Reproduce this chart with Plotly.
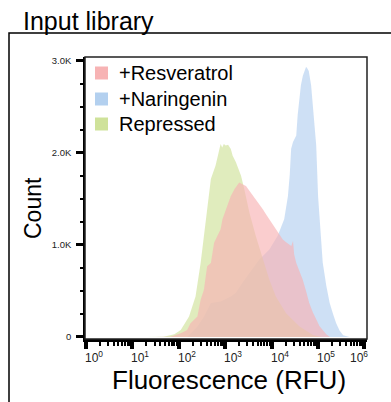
import plotly.graph_objects as go

# ---------------- data ----------------
series_names = ["+Resveratrol", "+Naringenin", "Repressed"]

naringenin_rfu = [60, 100, 151, 250, 347, 490, 794, 1318, 1698, 2344, 3500, 5370, 8913,
                  13490, 18620, 22390, 24500, 26300, 28840, 31000, 33880, 36310, 39000,
                  42660, 47000, 52000, 55000, 57540, 63000, 70790, 83180, 91200, 100000,
                  112000, 125900, 150000, 177800, 210000, 245500, 290000, 346700, 478600]
naringenin_count = [0, 0, 0, 110, 220, 370, 385, 440, 480, 590, 710, 840, 950,
                    1100, 1280, 1530, 1760, 2045, 2120, 2150, 2190, 2410, 2560,
                    2735, 2840, 2900, 2935, 2925, 2890, 2735, 2260, 2080, 1530,
                    1150, 810, 560, 370, 250, 150, 70, 20, 0]

resveratrol_rfu = [30, 66, 110, 151, 178, 251, 295, 347, 407, 490, 575, 680, 794, 871,
                   1050, 1318, 1600, 1995, 2344, 2800, 3311, 3900, 4571, 5400, 6457,
                   7600, 8913, 10500, 12300, 14600, 17380, 20500, 23990, 26500, 28840,
                   30500, 33880, 40000, 46770, 55000, 64570, 77000, 91200, 107000,
                   125900, 150000, 177800]
resveratrol_count = [0, 3, 40, 77, 150, 222, 404, 513, 768, 805, 1024, 1100, 1170, 1279,
                     1400, 1533, 1610, 1680, 1661, 1640, 1588, 1540, 1497, 1440, 1388,
                     1330, 1279, 1220, 1169, 1110, 1060, 1030, 1005, 990, 1042,
                     900, 805, 710, 623, 500, 368, 270, 186, 120,
                     77, 30, 3]

repressed_rfu = [20, 47, 80, 110, 166, 229, 295, 380, 490, 560, 617, 680, 741, 794, 860,
                 933, 1023, 1150, 1318, 1445, 1698, 1820, 2188, 2570, 3311, 4571, 6457,
                 8913, 12300, 20420, 39810, 77620, 117500]
repressed_count = [0, 3, 30, 77, 222, 440, 805, 1243, 1716, 1800, 1862, 1950, 2044, 2098,
                   2060, 2098, 2080, 2090, 2044, 1970, 1898, 1862, 1752, 1607, 1352, 1096,
                   841, 623, 440, 259, 113, 22, 0]

x_tick_values = [1, 10, 100, 1000, 10000, 100000, 1000000]
x_tick_labels = ["10<sup>0</sup>", "10<sup>1</sup>", "10<sup>2</sup>", "10<sup>3</sup>",
                 "10<sup>4</sup>", "10<sup>5</sup>", "10<sup>6</sup>"]
x_minor_values = [m * d for d in [1, 10, 100, 1000, 10000, 100000] for m in range(2, 10)]
y_tick_values = [0, 1000, 2000, 3000]
y_tick_labels = ["0", "1.0K", "2.0K", "3.0K"]
y_minor_values = [250, 500, 750, 1250, 1500, 1750, 2250, 2500, 2750]

# ---------------- styling ----------------
FONT = "Liberation Sans, Arial, Helvetica, sans-serif"
fill_colors = {"+Resveratrol": "rgba(247,178,179,0.65)",
               "+Naringenin": "rgba(179,208,239,0.65)",
               "Repressed": "rgba(207,226,154,0.65)"}
legend_colors = {"+Resveratrol": "#f7b3b4",
                 "+Naringenin": "#b3d0ef",
                 "Repressed": "#cfe29a"}

W, H = 391, 402
L, R, T, B = 85, 24, 57, 63
PW, PH = W - L - R, H - T - B


def px(xp):
    return (xp - L) / PW


def py(yp):
    return (H - B - yp) / PH


fig = go.Figure()

# fills: naringenin at back, repressed, resveratrol on top
for name, xs, ys in [("+Naringenin", naringenin_rfu, naringenin_count),
                     ("Repressed", repressed_rfu, repressed_count),
                     ("+Resveratrol", resveratrol_rfu, resveratrol_count)]:
    fig.add_trace(go.Scatter(x=xs, y=ys, mode="lines", fill="tozeroy", name=name,
                             line=dict(width=0, color=fill_colors[name]),
                             fillcolor=fill_colors[name], showlegend=False,
                             hoverinfo="skip"))

fig.update_xaxes(type="log", range=[-0.0215, 6.054], showgrid=False, zeroline=False,
                 showline=True, linecolor="black", linewidth=3,
                 tickmode="array", tickvals=x_tick_values, showticklabels=False,
                 ticks="outside", ticklen=7, tickwidth=3.5, tickcolor="black",
                 minor=dict(tickmode="array", tickvals=x_minor_values, ticks="outside",
                            ticklen=4, tickwidth=2, tickcolor="black"))
fig.update_yaxes(range=[-22, 3043], showgrid=False, zeroline=False,
                 showline=True, linecolor="black", linewidth=1.5,
                 tickmode="array", tickvals=y_tick_values, ticktext=y_tick_labels,
                 ticks="outside", ticklen=7, tickwidth=3, tickcolor="black",
                 tickfont=dict(size=9.5, color="#222", family=FONT),
                 ticklabelstandoff=3,
                 minor=dict(tickmode="array", tickvals=y_minor_values, ticks="outside",
                            ticklen=3.5, tickwidth=2, tickcolor="black"))

annotations = []
shapes = []
# x tick labels (slightly offset to the right of their ticks, as in the reference)
for i, (v, lab) in enumerate(zip(x_tick_values, x_tick_labels)):
    shift = 8 if i < len(x_tick_values) - 1 else -5
    annotations.append(dict(x=i, y=py(357), xref="x", yref="paper", text=lab,
                            showarrow=False, xanchor="center", yanchor="middle",
                            xshift=shift, font=dict(size=12, color="#222", family=FONT)))

# legend drawn as swatches + labels
legend_rows = [73, 99, 124]
for name, yc in zip(series_names, legend_rows):
    shapes.append(dict(type="rect", xref="paper", yref="paper",
                       x0=px(95), x1=px(108), y0=py(yc + 6.5), y1=py(yc - 6.5),
                       fillcolor=legend_colors[name], line=dict(width=0), layer="above"))
    annotations.append(dict(x=px(117), y=py(yc), xref="paper", yref="paper", text=name,
                            showarrow=False, xanchor="left", yanchor="middle",
                            font=dict(size=20, color="black", family=FONT)))

annotations.append(dict(x=px(21), y=py(20.5), xref="paper", yref="paper",
                        text="Input library", showarrow=False, xanchor="left",
                        yanchor="middle", font=dict(size=25, color="black", family=FONT)))
annotations.append(dict(x=px(228.5), y=py(380), xref="paper", yref="paper",
                        text="Fluorescence (RFU)", showarrow=False, xanchor="center",
                        yanchor="middle", font=dict(size=26, color="black", family=FONT)))
annotations.append(dict(x=px(33), y=py(208), xref="paper", yref="paper",
                        text="Count", showarrow=False, xanchor="center", textangle=-90,
                        yanchor="middle", font=dict(size=23, color="black", family=FONT)))

shapes += [
    dict(type="rect", xref="paper", yref="paper", x0=0, y0=0, x1=1, y1=1,
         line=dict(color="#222", width=1.5), layer="above"),
    dict(type="path", xref="paper", yref="paper",
         path=f"M {px(9)},{py(410)} L {px(9)},{py(33)} L {px(400)},{py(33)}",
         line=dict(color="black", width=1.5)),
]

fig.update_layout(
    width=W, height=H, margin=dict(l=L, r=R, t=T, b=B, pad=0),
    paper_bgcolor="white", plot_bgcolor="white",
    font=dict(family=FONT, color="black"),
    showlegend=False,
    annotations=annotations, shapes=shapes, hovermode=False,
)

fig.write_html("out.html")
